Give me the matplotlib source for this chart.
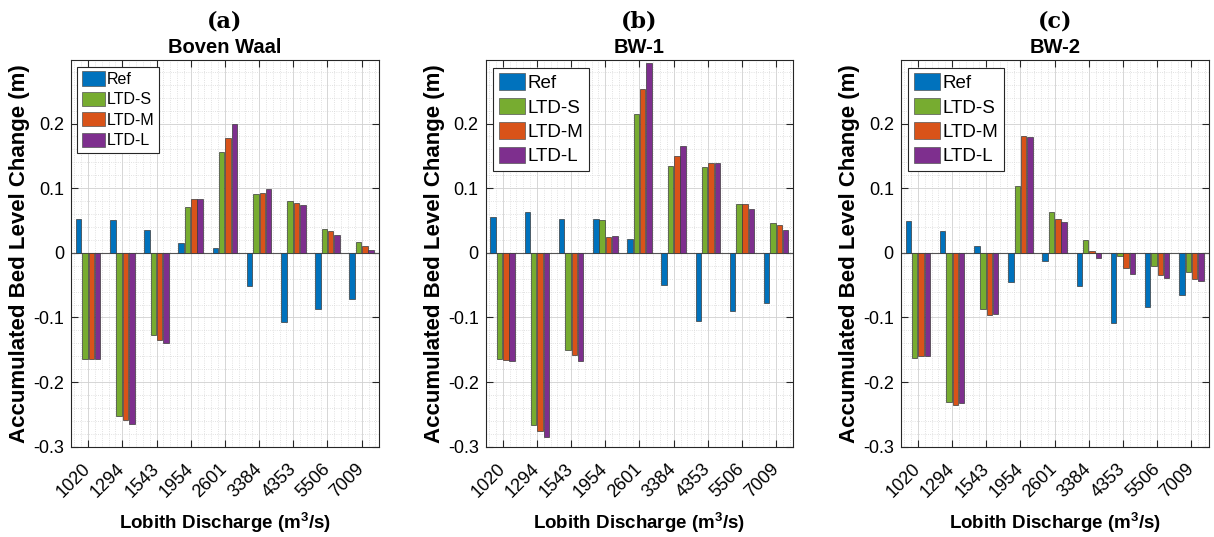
import numpy as np
import matplotlib
matplotlib.use("Agg")
import matplotlib.pyplot as plt
import matplotlib.transforms as mtransforms
from matplotlib.ticker import MultipleLocator, FuncFormatter

plt.rcParams['font.family'] = ['Liberation Sans', 'DejaVu Sans']
plt.rcParams['mathtext.fontset'] = 'custom'
plt.rcParams['mathtext.bf'] = 'Liberation Sans:bold'

discharge = ["1020", "1294", "1543", "1954", "2601", "3384", "4353", "5506", "7009"]
series = ["Ref", "LTD-S", "LTD-M", "LTD-L"]
colors = ["#0072BD", "#77AC30", "#D95319", "#7E2F8E"]

# panel (a) Boven Waal
bw_ref = [0.053, 0.051, 0.036, 0.015, 0.008, -0.051, -0.107, -0.087, -0.072]
bw_s = [-0.164, -0.253, -0.127, 0.071, 0.156, 0.091, 0.080, 0.037, 0.017]
bw_m = [-0.165, -0.259, -0.135, 0.083, 0.177, 0.093, 0.077, 0.033, 0.011]
bw_l = [-0.165, -0.264, -0.140, 0.084, 0.199, 0.098, 0.074, 0.027, 0.005]

# panel (b) BW-1
bw1_ref = [0.056, 0.063, 0.053, 0.052, 0.021, -0.050, -0.106, -0.090, -0.077]
bw1_s = [-0.165, -0.266, -0.151, 0.051, 0.215, 0.135, 0.132, 0.075, 0.046]
bw1_m = [-0.166, -0.275, -0.158, 0.024, 0.253, 0.149, 0.139, 0.075, 0.043]
bw1_l = [-0.168, -0.285, -0.168, 0.026, 0.293, 0.165, 0.139, 0.067, 0.035]

# panel (c) BW-2
bw2_ref = [0.049, 0.033, 0.010, -0.045, -0.013, -0.051, -0.108, -0.084, -0.066]
bw2_s = [-0.162, -0.231, -0.087, 0.103, 0.063, 0.020, -0.005, -0.021, -0.030]
bw2_m = [-0.160, -0.235, -0.096, 0.180, 0.053, 0.003, -0.024, -0.035, -0.041]
bw2_l = [-0.159, -0.232, -0.094, 0.179, 0.047, -0.008, -0.032, -0.039, -0.044]

panels = [
    ("(a)", "Boven Waal", [bw_ref, bw_s, bw_m, bw_l], 11.5),
    ("(b)", "BW-1", [bw1_ref, bw1_s, bw1_m, bw1_l], 13.5),
    ("(c)", "BW-2", [bw2_ref, bw2_s, bw2_m, bw2_l], 13.5),
]

fig = plt.figure(figsize=(12.14, 5.37), dpi=100)
lefts = [0.0585, 0.400, 0.742]
x = np.arange(len(discharge))
pitch = 0.185
width = 0.16

fmt = FuncFormatter(lambda v, p: "0" if abs(v) < 1e-9 else ("%.1f" % v))
shift = mtransforms.ScaledTranslation(8 / 100, 0, fig.dpi_scale_trans)

for left, (letter, title, data, legsize) in zip(lefts, panels):
    ax = fig.add_axes([left, 0.168, 0.2535, 0.720])
    for i, (vals, c, name) in enumerate(zip(data, colors, series)):
        ax.bar(x + (i - 1.5) * pitch, vals, width, color=c, edgecolor="#3a3a3a",
               linewidth=0.5, label=name, zorder=3)
    ax.axhline(0, color="#555555", linewidth=0.8, zorder=2)
    ax.set_xlim(-0.5, len(discharge) - 0.5)
    ax.set_ylim(-0.3, 0.298)
    ax.set_xticks(x)
    ax.set_xticklabels(discharge, rotation=45, ha="right", va="center",
                       rotation_mode="anchor", fontsize=13)
    for lab in ax.get_xticklabels():
        lab.set_transform(lab.get_transform() + shift)
    ax.set_yticks([-0.3, -0.2, -0.1, 0, 0.1, 0.2])
    ax.yaxis.set_major_formatter(fmt)
    ax.yaxis.set_minor_locator(MultipleLocator(0.02))
    ax.xaxis.set_minor_locator(MultipleLocator(0.2))
    ax.tick_params(axis="both", which="major", direction="in", top=True, right=True,
                   labelsize=13, length=5, color="#262626")
    ax.tick_params(axis="x", which="major", pad=14)
    ax.tick_params(axis="y", which="major", pad=5)
    ax.tick_params(axis="both", which="minor", direction="in", top=True, right=True,
                   length=0)
    ax.grid(True, which="major", color="#d0d0d0", linewidth=0.6, zorder=0)
    ax.grid(True, which="minor", color="#d8d8d8", linestyle=":", linewidth=0.6, zorder=0)
    ax.set_axisbelow(True)
    for s in ax.spines.values():
        s.set_color("#262626")
        s.set_linewidth(0.8)
    ax.set_ylabel("Accumulated Bed Level Change (m)", fontsize=16, fontweight="bold", labelpad=2)
    ax.set_xlabel(r"Lobith Discharge (m$\mathbf{^3}$/s)", fontsize=13.5, fontweight="bold", labelpad=7)
    ax.set_title(title, fontsize=14.5, fontweight="bold", pad=5)
    ax.text(0.5, 1.072, letter, transform=ax.transAxes, ha="center", va="bottom",
            fontsize=16, fontweight="bold", family="DejaVu Serif")
    leg = ax.legend(loc="upper left", fontsize=legsize, frameon=True, fancybox=False,
                    handlelength=1.4, handleheight=1.0, handletextpad=0.15,
                    borderpad=0.3, labelspacing=0.3, borderaxespad=0.4)
    leg.get_frame().set_edgecolor("#262626")
    leg.get_frame().set_linewidth(0.8)
    leg.get_frame().set_alpha(1.0)
    for h in leg.legend_handles:
        h.set_edgecolor("#555555")

fig.savefig("out.png", dpi=100)
